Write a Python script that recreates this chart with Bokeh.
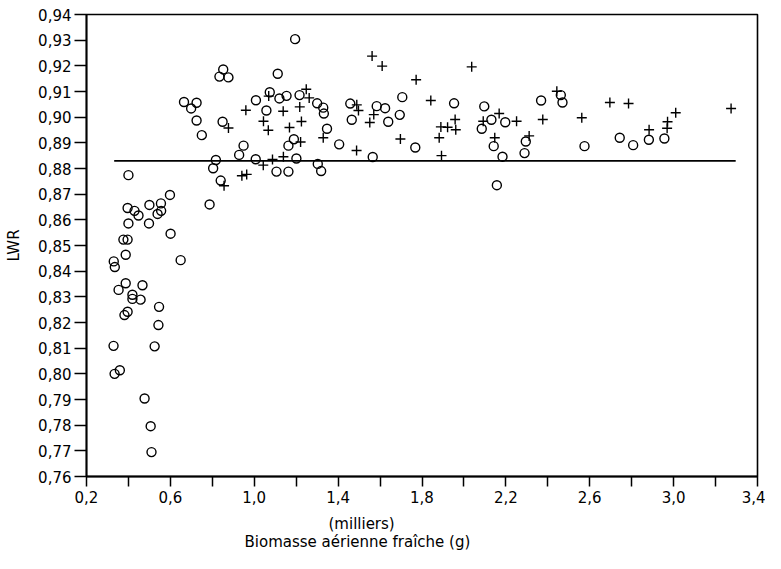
from bokeh.plotting import figure
from bokeh.models import FixedTicker, Title
from bokeh.embed import file_html
from bokeh.resources import INLINE

# ---- data ----
circle_x = [0.400, 0.598, 0.396, 0.429, 0.448, 0.500, 0.555, 0.556, 0.539, 0.400,
            0.498, 0.787, 0.376, 0.396, 0.601, 0.387, 0.330, 0.335, 0.649, 0.353,
            0.387, 0.467, 0.419, 0.419, 0.458, 0.546, 0.396, 0.381, 0.543, 0.329,
            0.525, 0.359, 0.334, 0.477, 0.506, 0.510,
            0.750, 0.665, 0.699, 0.725, 0.725, 0.852, 0.834, 0.877, 0.849, 0.949,
            0.928, 0.817, 0.804, 0.840, 1.195, 1.112, 1.008, 1.074, 1.120, 1.154,
            1.216, 1.300, 1.329, 1.332, 1.058, 1.189, 1.163, 1.007, 1.201, 1.106,
            1.163, 1.303, 1.319, 1.347, 1.405, 1.458, 1.465, 1.584, 1.624, 1.565,
            1.639, 1.706, 1.694, 1.768, 1.953, 2.097, 2.085, 2.131, 2.197, 2.142,
            2.184, 2.157, 2.295, 2.289, 2.368, 2.462, 2.470, 2.575, 2.743, 2.807,
            2.882, 2.956]
circle_y = [0.8774, 0.8697, 0.8646, 0.8635, 0.8617, 0.8658, 0.8664, 0.8635, 0.8623, 0.8586,
            0.8586, 0.8660, 0.8523, 0.8523, 0.8546, 0.8464, 0.8438, 0.8416, 0.8443, 0.8327,
            0.8353, 0.8345, 0.8308, 0.8292, 0.8289, 0.8261, 0.8242, 0.8229, 0.8190, 0.8109,
            0.8107, 0.8014, 0.8000, 0.7904, 0.7796, 0.7695,
            0.8930, 0.9059, 0.9034, 0.9056, 0.8987, 0.9186, 0.9158, 0.9155, 0.8982, 0.8889,
            0.8853, 0.8833, 0.8801, 0.8753, 0.9304, 0.9169, 0.9066, 0.9097, 0.9073, 0.9083,
            0.9086, 0.9054, 0.9037, 0.9014, 0.9026, 0.8914, 0.8889, 0.8836, 0.8839, 0.8788,
            0.8788, 0.8818, 0.8790, 0.8955, 0.8894, 0.9053, 0.8990, 0.9043, 0.9035, 0.8845,
            0.8982, 0.9078, 0.9009, 0.8882, 0.9054, 0.9042, 0.8955, 0.8990, 0.8980, 0.8887,
            0.8846, 0.8735, 0.8905, 0.8860, 0.9065, 0.9086, 0.9057, 0.8887, 0.8920, 0.8891,
            0.8912, 0.8917]

cross_x = [0.877, 0.960, 0.856, 0.941, 0.964, 1.069, 1.044, 1.067, 1.138, 1.168,
           1.217, 1.225, 1.248, 1.262, 1.221, 1.043, 1.087, 1.139, 1.329, 1.562,
           1.610, 1.489, 1.497, 1.570, 1.551, 1.488, 1.772, 1.842, 1.697, 1.882,
           1.890, 1.922, 1.961, 1.958, 1.893, 2.037, 2.092, 2.168, 2.251, 2.147,
           2.311, 2.376, 2.443, 2.562, 2.696, 2.785, 2.883, 2.971, 2.969, 3.010,
           3.274]
cross_y = [0.8958, 0.9027, 0.8733, 0.8772, 0.8777, 0.9082, 0.8984, 0.8949, 0.9023, 0.8960,
           0.9040, 0.8983, 0.9109, 0.9075, 0.8903, 0.8813, 0.8835, 0.8846, 0.8920, 0.9238,
           0.9199, 0.9048, 0.9026, 0.9010, 0.8979, 0.8870, 0.9146, 0.9065, 0.8915, 0.8920,
           0.8962, 0.8961, 0.8951, 0.8991, 0.8850, 0.9196, 0.8984, 0.9014, 0.8984, 0.8920,
           0.8927, 0.8991, 0.9101, 0.8998, 0.9057, 0.9053, 0.8951, 0.8982, 0.8957, 0.9017,
           0.9034]

mean_line_x = [0.332, 3.296]
mean_line_y = [0.883, 0.883]

x_tick_values = [0.2, 0.4, 0.6, 0.8, 1.0, 1.2, 1.4, 1.6, 1.8, 2.0, 2.2, 2.4, 2.6, 2.8, 3.0, 3.2, 3.4]
x_tick_labels = ["0,2", "", "0,6", "", "1,0", "", "1,4", "", "1,8", "", "2,2", "", "2,6", "", "3,0", "", "3,4"]
y_tick_values = [0.76, 0.77, 0.78, 0.79, 0.80, 0.81, 0.82, 0.83, 0.84, 0.85,
                 0.86, 0.87, 0.88, 0.89, 0.90, 0.91, 0.92, 0.93, 0.94]
y_tick_labels = ["0,76", "0,77", "0,78", "0,79", "0,80", "0,81", "0,82", "0,83", "0,84", "0,85",
                 "0,86", "0,87", "0,88", "0,89", "0,90", "0,91", "0,92", "0,93", "0,94"]

x_label_top = "(milliers)"
x_label_bottom = "Biomasse aérienne fraîche (g)"
y_label = "LWR"

FONT = "DejaVu Sans"

p = figure(width=765, height=553, x_range=(0.2, 3.4), y_range=(0.76, 0.94),
           output_backend="svg", toolbar_location=None,
           min_border_left=86, min_border_right=8, min_border_top=14, min_border_bottom=77)
p.background_fill_color = "white"
p.border_fill_color = "white"
p.xgrid.grid_line_color = None
p.ygrid.grid_line_color = None
p.outline_line_color = "black"
p.outline_line_width = 1.6

for ax in (p.xaxis[0], p.yaxis[0]):
    ax.axis_line_color = "black"
    ax.axis_line_width = 1.8
    ax.major_tick_line_color = "black"
    ax.major_tick_line_width = 1.5
    ax.minor_tick_line_color = None
    ax.major_tick_in = 0
    ax.major_label_text_font = FONT
    ax.major_label_text_font_size = "15px"
    ax.major_label_text_color = "black"
    ax.axis_label_text_font = FONT
    ax.axis_label_text_font_size = "15px"
    ax.axis_label_text_font_style = "normal"
    ax.axis_label_text_color = "black"

p.xaxis.ticker = FixedTicker(ticks=x_tick_values)
p.xaxis.major_label_overrides = dict(zip(x_tick_values, x_tick_labels))
p.xaxis.major_tick_out = 10
p.xaxis.major_label_standoff = 4

p.yaxis.ticker = FixedTicker(ticks=y_tick_values)
p.yaxis.major_label_overrides = dict(zip(y_tick_values, y_tick_labels))
p.yaxis.major_tick_out = 12
p.yaxis.major_label_standoff = 3
p.yaxis.axis_label = y_label
p.yaxis.axis_label_standoff = 12

p.line(mean_line_x, mean_line_y, line_color="black", line_width=1.8)
p.scatter(circle_x, circle_y, marker="circle", size=9, fill_color=None,
          line_color="black", line_width=1.4)
p.scatter(cross_x, cross_y, marker="cross", size=10, line_color="black", line_width=1.4)

# two-line x-axis caption, placed left of centre as in the original
p.add_layout(Title(text=x_label_top, align="left", offset=242, standoff=15,
                   text_font=FONT, text_font_size="15px", text_font_style="normal",
                   text_color="black"), "below")
p.add_layout(Title(text=x_label_bottom, align="left", offset=158, standoff=-19,
                   text_font=FONT, text_font_size="15px", text_font_style="normal",
                   text_color="black"), "below")

open("out.html", "w").write(file_html(p, INLINE))
